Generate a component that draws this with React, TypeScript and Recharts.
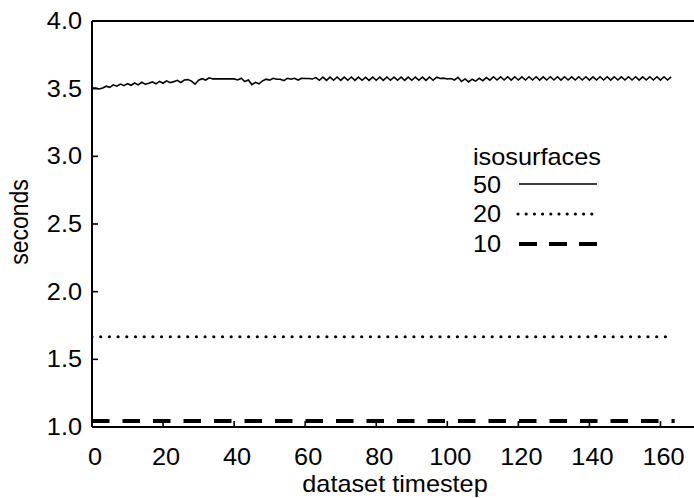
import { Line, LineChart, XAxis, YAxis } from "recharts";

// 50 isosurfaces, one value per timestep (0..163)
const SERIES_50 = [
  3.505, 3.505, 3.498, 3.505, 3.518, 3.51, 3.528, 3.518, 3.534, 3.522,
  3.537, 3.525, 3.542, 3.528, 3.547, 3.533, 3.54, 3.55, 3.536, 3.554,
  3.54, 3.558, 3.544, 3.552, 3.562, 3.546, 3.564, 3.567, 3.556, 3.533,
  3.562, 3.574, 3.564, 3.58, 3.572, 3.572, 3.572, 3.572, 3.572, 3.572,
  3.572, 3.564, 3.577, 3.553, 3.564, 3.53, 3.547, 3.536, 3.558, 3.57,
  3.563, 3.577, 3.57, 3.57, 3.56, 3.577, 3.57, 3.577, 3.564, 3.577,
  3.575, 3.575, 3.572, 3.582, 3.562, 3.585, 3.561, 3.585, 3.562, 3.586,
  3.561, 3.585, 3.562, 3.586, 3.561, 3.585, 3.562, 3.584, 3.561, 3.585,
  3.562, 3.585, 3.561, 3.586, 3.562, 3.585, 3.562, 3.585, 3.561, 3.585,
  3.562, 3.585, 3.562, 3.585, 3.561, 3.586, 3.562, 3.585, 3.575, 3.578,
  3.572, 3.575, 3.564, 3.584, 3.553, 3.572, 3.55, 3.57, 3.556, 3.577,
  3.559, 3.582, 3.563, 3.588, 3.564, 3.587, 3.564, 3.588, 3.563, 3.588,
  3.564, 3.587, 3.564, 3.588, 3.564, 3.588, 3.563, 3.587, 3.564, 3.588,
  3.564, 3.588, 3.563, 3.588, 3.564, 3.587, 3.564, 3.588, 3.564, 3.588,
  3.563, 3.587, 3.564, 3.588, 3.564, 3.588, 3.563, 3.588, 3.564, 3.587,
  3.564, 3.588, 3.564, 3.588, 3.563, 3.587, 3.564, 3.588, 3.564, 3.588,
  3.563, 3.588, 3.564, 3.587,
];

// 20 and 10 isosurfaces are flat, only the points where they change
const SERIES_20_T = [0, 140, 141, 142, 163];
const SERIES_20_V = [1.667, 1.667, 1.68, 1.667, 1.667];
const SERIES_10_T = [0, 164];
const SERIES_10_V = [1.044, 1.044];

const X_TICKS = [0, 20, 40, 60, 80, 100, 120, 140, 160];
const Y_TICKS = [1.0, 1.5, 2.0, 2.5, 3.0, 3.5, 4.0];

const data = Array.from({ length: 165 }, (_, t) => {
  const i20 = SERIES_20_T.indexOf(t);
  const i10 = SERIES_10_T.indexOf(t);
  return {
    t,
    s50: t < SERIES_50.length ? SERIES_50[t] : null,
    s20: i20 >= 0 ? SERIES_20_V[i20] : null,
    s10: i10 >= 0 ? SERIES_10_V[i10] : null,
  };
});

const FONT = "'Liberation Sans', Arial, Helvetica, sans-serif";
const FS = 23;
const SX = 1.1;
const TICK = -6; // negative: ticks point into the plot

function Txt({ x, y, anchor = "start", children, rotate = false }: any) {
  const tf = rotate
    ? `translate(${x},${y}) rotate(-90) scale(1,${SX})`
    : `translate(${x},${y}) scale(${SX},1)`;
  return (
    <text
      transform={tf}
      textAnchor={anchor}
      fontFamily={FONT}
      fontSize={FS}
      fill="#000"
    >
      {children}
    </text>
  );
}

// tick label coords come in 6px inside the frame because of the inward ticks
function BottomLabel({ x, y, payload }: any) {
  return (
    <Txt x={x + 3} y={y + 44} anchor="middle">
      {payload.value}
    </Txt>
  );
}

function LeftLabel({ x, y, payload }: any) {
  return (
    <Txt x={x - 16} y={y + 8} anchor="end">
      {Number(payload.value).toFixed(1)}
    </Txt>
  );
}

function LegendBox() {
  // own svg laid over the chart, origin at (460, 140) of the page
  return (
    <svg
      width={160}
      height={125}
      style={{ position: "absolute", left: 460, top: 140 }}
    >
      <Txt x={13} y={25}>isosurfaces</Txt>
      <Txt x={13} y={53}>50</Txt>
      <line x1={59} x2={137} y1={44} y2={44} stroke="#000" strokeWidth={1.6} />
      <Txt x={13} y={82}>20</Txt>
      <line
        x1={58}
        x2={132}
        y1={74}
        y2={74}
        stroke="#000"
        strokeWidth={3.2}
        strokeDasharray="0 8.2"
        strokeLinecap="round"
      />
      <Txt x={13} y={112}>10</Txt>
      <line
        x1={59}
        x2={137}
        y1={104}
        y2={104}
        stroke="#000"
        strokeWidth={4}
        strokeDasharray="18 12"
      />
    </svg>
  );
}

const axisLine = { stroke: "#000", strokeWidth: 2 };
const tickLine = { stroke: "#000", strokeWidth: 1.6 };

export default function App() {
  return (
    <div
      style={{
        position: "absolute",
        left: 0,
        top: 0,
        width: 694,
        height: 498,
        overflow: "hidden",
        background: "#fff",
      }}
    >
      <LineChart
        width={697}
        height={498}
        data={data}
        margin={{ top: 20, right: 0, bottom: 0, left: 0 }}
      >
        <XAxis
          xAxisId="b"
          dataKey="t"
          type="number"
          domain={[0, 170]}
          ticks={X_TICKS}
          allowDataOverflow
          height={71}
          tickSize={TICK}
          tickMargin={0}
          tickLine={tickLine}
          axisLine={axisLine}
          tick={<BottomLabel />}
          interval={0}
        />
        <XAxis
          xAxisId="t"
          orientation="top"
          type="number"
          domain={[0, 170]}
          ticks={X_TICKS}
          allowDataOverflow
          height={1}
          tickSize={TICK}
          tickMargin={0}
          tickLine={tickLine}
          axisLine={axisLine}
          tick={false}
          interval={0}
        />
        <YAxis
          yAxisId="l"
          type="number"
          domain={[1, 4]}
          ticks={Y_TICKS}
          allowDataOverflow
          width={92}
          tickSize={TICK}
          tickMargin={0}
          tickLine={tickLine}
          axisLine={axisLine}
          tick={<LeftLabel />}
          interval={0}
        />
        <YAxis
          yAxisId="r"
          orientation="right"
          type="number"
          domain={[1, 4]}
          ticks={Y_TICKS}
          allowDataOverflow
          width={1}
          tickSize={TICK}
          tickMargin={0}
          tickLine={tickLine}
          axisLine={axisLine}
          tick={false}
          interval={0}
        />
        <Line
          xAxisId="b"
          yAxisId="l"
          dataKey="s50"
          stroke="#000"
          strokeWidth={1.6}
          dot={false}
          type="linear"
          isAnimationActive={false}
        />
        <Line
          xAxisId="b"
          yAxisId="l"
          dataKey="s20"
          stroke="#000"
          strokeWidth={3.2}
          strokeDasharray="0 8.7"
          strokeLinecap="round"
          connectNulls
          dot={false}
          type="linear"
          isAnimationActive={false}
        />
        <Line
          xAxisId="b"
          yAxisId="l"
          dataKey="s10"
          stroke="#000"
          strokeWidth={4}
          strokeDasharray="17.5 13"
          connectNulls
          dot={false}
          type="linear"
          isAnimationActive={false}
        />
        <Txt x={28} y={222} anchor="middle" rotate>
          seconds
        </Txt>
        <Txt x={395} y={492} anchor="middle">
          dataset timestep
        </Txt>
      </LineChart>
      <LegendBox />
    </div>
  );
}
